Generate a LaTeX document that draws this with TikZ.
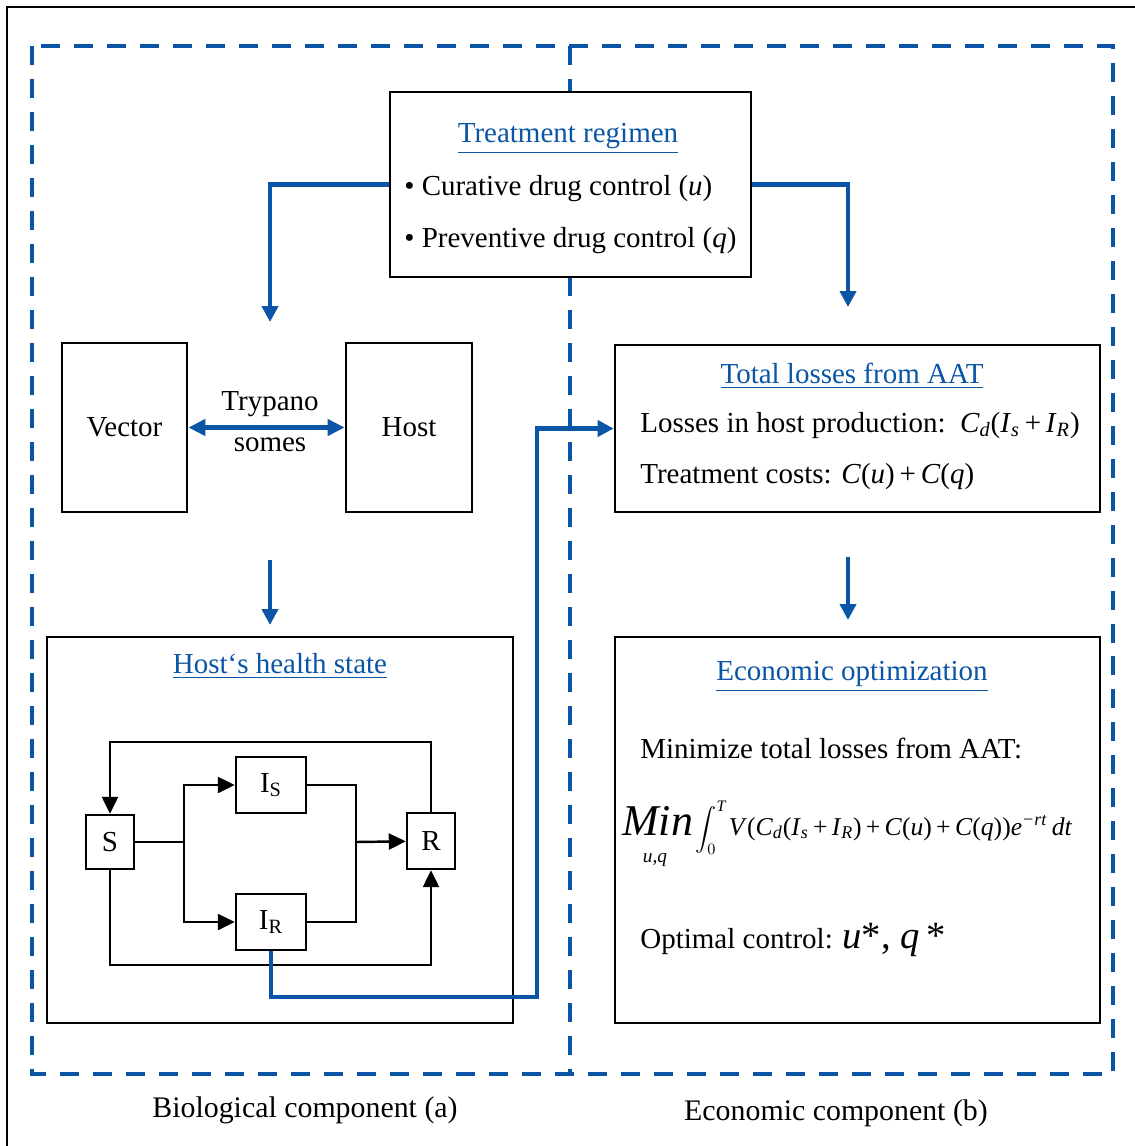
\documentclass[tikz,border=0pt]{standalone}
\usepackage{exscale}
\usepackage{fontspec}
\setmainfont{Liberation Serif}
\usetikzlibrary{arrows.meta,positioning}
\definecolor{aatblue}{RGB}{10,85,165}
\newcommand{\itsub}[2]{\textit{#1}\textsubscript{\textit{#2}}}

\begin{document}
\begin{tikzpicture}[
    x=0.02cm, y=-0.02cm,
    every node/.style={font=\fontsize{16.5}{20}\selectfont, inner sep=0pt},
    box/.style={draw, line width=1.6pt, fill=white, rectangle},
    state/.style={draw, line width=1.4pt, fill=white, rectangle},
    title/.style={text=aatblue},
    link/.style={line width=1.4pt},
    flow/.style={line width=1.4pt, -{Triangle[length=0.34cm,width=0.32cm]}},
    barrow/.style={draw=aatblue, line width=2.4pt, -{Triangle[length=0.32cm,width=0.32cm]}},
    dbarrow/.style={draw=aatblue, line width=2.4pt, {Triangle[length=0.34cm,width=0.32cm]}-{Triangle[length=0.34cm,width=0.32cm]}},
    frame/.style={draw=aatblue, line width=2.8pt, dash pattern=on 0.38cm off 0.28cm}
]
\useasboundingbox (0,0) rectangle (1135,1146);

% Outer frame and the two components
\draw[line width=1.2pt] (1135,7) -- (7,7) -- (7,1146);
\draw[frame] (32,46) rectangle (1113,1074);
\draw[frame] (570,46) -- (570,1074);

% Treatment regimen
\node[box, minimum width=7.22cm, minimum height=3.7cm] (treat) at (570.5,184.5) {};
\node[title, anchor=base] (treattitle) at (568,142) {\underline{Treatment regimen}};
\node[anchor=base west] (cur) at (404,195) {•\ Curative drug control (\textit{u})};
\node[anchor=base west] (prev) at (404,247) {•\ Preventive drug control (\textit{q})};

% Biological component
\node[box, minimum width=2.5cm, minimum height=3.38cm] (vector) at (124.5,427.5) {Vector};
\node[box, minimum width=2.52cm, minimum height=3.38cm] (host) at (409,427.5) {Host};
\node[anchor=base] (tryp) at (270,410) {Trypano};
\node[anchor=base] (somes) at (270,451) {somes};
\draw[dbarrow] (vector) -- (host);

\node[box, minimum width=9.32cm, minimum height=7.72cm] (health) at (280,830) {};
\node[title, anchor=base] (healthtitle) at (280,673) {\underline{Host‘s health state}};

% Health states
\node[state, minimum width=0.96cm, minimum height=1.08cm] (S) at (110,842) {S};
\node[state, minimum width=1.4cm, minimum height=1.12cm] (IS) at (271,785) {I\textsubscript{S}};
\node[state, minimum width=1.4cm, minimum height=1.12cm] (IR) at (271,922) {I\textsubscript{R}};
\node[state, minimum width=0.96cm, minimum height=1.12cm] (R) at (431,841) {R};
\coordinate (split) at (184,842);
\coordinate (merge) at (356,842);

\draw[link] (S) -- (split);
\draw[flow] (split) |- (IS);
\draw[flow] (split) |- (IR);
\draw[link] (IS) -| (merge);
\draw[link] (IR) -| (merge);
\draw[flow] (merge) -- (R);
\draw[flow] (R.north) -- ++(0,-70) -| (S.north);
\draw[flow] (S.south) -- ++(0,95) -| (R.south);

% Economic component
\node[box, minimum width=9.7cm, minimum height=3.34cm] (losses) at (857.5,428.5) {};
\node[title, anchor=base] (lossestitle) at (852,383) {\underline{Total losses from AAT}};
\node[anchor=base west] (prod) at (640,432) {Losses in host production:\ \ \itsub{C}{d}(\itsub{I}{s}\,+\,\itsub{I}{R})};
\node[anchor=base west] (costs) at (640,483) {Treatment costs: \textit{C}(\textit{u})\,+\,\textit{C}(\textit{q})};

\node[box, minimum width=9.7cm, minimum height=7.72cm] (econ) at (857.5,830) {};
\node[title, anchor=base] (econtitle) at (852,680) {\underline{Economic optimization}};
\node[anchor=base west] (minim) at (640,758) {Minimize total losses from AAT:};
\node[anchor=base west, font=\fontsize{25}{25}\selectfont\itshape] (minop) at (622,835) {Min};
\node[anchor=base, font=\fontsize{11}{11}\selectfont\itshape] (uq) at (655,862) {u,q};
\node[anchor=base west, font=\fontsize{13}{13}\selectfont] (integ) at ([xshift=1pt]minop.base east) {$\displaystyle\int_{0}^{\mathit{T}}$};
\node[anchor=base west, font=\fontsize{14.6}{16}\selectfont] (integrand) at ([xshift=1pt]integ.base east) {\textit{V}(\itsub{C}{d}(\itsub{I}{s}\,+\,\itsub{I}{R})\,+\,\textit{C}(\textit{u})\,+\,\textit{C}(\textit{q}))\textit{e}\textsuperscript{\textit{−rt}}\,\textit{dt}};
\node[anchor=base west] (optim) at (640,948) {Optimal control: {\fontsize{22}{22}\selectfont\textit{u}*, \textit{q}\,*}};

% Connections
\coordinate (bioin) at (270,322);
\coordinate (econin) at (848,307);
\draw[barrow] (treat.west) -| (bioin);
\draw[barrow] (treat.east) -| (econin);

\coordinate (hostout) at (270,560);
\coordinate (healthin) at (270,625);
\draw[barrow] (hostout) -- (healthin);

\coordinate (lossout) at (848,557);
\coordinate (econtop) at (848,620);
\draw[barrow] (lossout) -- (econtop);

\coordinate (jog) at (537,997);
\draw[barrow] (IR.south) |- (jog) |- (losses.west);

% Captions
\node[anchor=base, font=\fontsize{17}{20}\selectfont] (biocap) at (305,1117) {Biological component (a)};
\node[anchor=base, font=\fontsize{17}{20}\selectfont] (econcap) at (836,1120) {Economic component (b)};

\end{tikzpicture}
\end{document}
